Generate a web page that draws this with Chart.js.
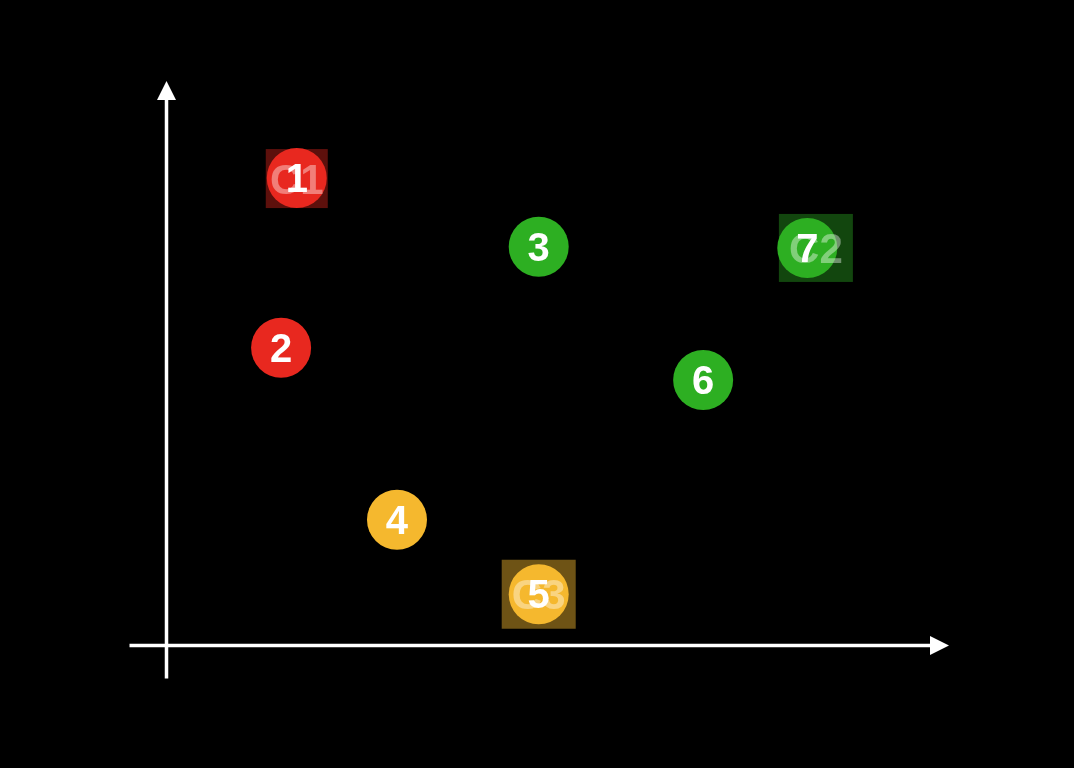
<!DOCTYPE html>
<html>
<head>
<meta charset="utf-8">
<script src="https://cdn.jsdelivr.net/npm/chart.js@4/dist/chart.umd.min.js"></script>
<style>
  html, body { margin: 0; padding: 0; background: #000; }
  canvas { display: block; }
</style>
</head>
<body>
<canvas id="c" width="1074" height="768"></canvas>
<script>
// ---- data ----
const pointLabels = ['1', '2', '3', '4', '5', '6', '7'];
const pointX = [1.67, 1.47, 4.76, 2.95, 4.76, 6.86, 8.19];
const pointY = [8.28, 5.27, 7.06, 2.22, 0.90, 4.70, 7.04];
const pointCluster = [0, 0, 1, 2, 2, 1, 1];

const centroidLabels = ['C1', 'C2', 'C3'];
const centroidX = [1.67, 8.30, 4.76];
const centroidY = [8.27, 7.04, 0.90];

// ---- styles ----
const clusterColors = ['#e8281f', '#2daf22', '#f5b82e'];
const clusterBoxColors = ['rgba(232,40,31,0.4)', 'rgba(45,175,34,0.4)', 'rgba(245,184,46,0.45)'];
const centroidBoxSize = [{ w: 62, h: 59 }, { w: 74, h: 68 }, { w: 74, h: 69 }];
const FONT = '"Liberation Sans", Arial, Helvetica, sans-serif';

const axesPlugin = {
  id: 'arrowAxes',
  beforeDatasetsDraw(chart) {
    const ctx = chart.ctx;
    const xs = chart.scales.x, ys = chart.scales.y;
    const ox = xs.getPixelForValue(0) + 0.5;
    const oy = ys.getPixelForValue(0) + 0.5;
    const xEnd = xs.getPixelForValue(xs.max);
    const yEnd = ys.getPixelForValue(ys.max);
    ctx.save();
    ctx.strokeStyle = '#fff';
    ctx.fillStyle = '#fff';
    ctx.lineWidth = 3.5;
    // x axis
    ctx.beginPath();
    ctx.moveTo(ox - 37, oy);
    ctx.lineTo(xEnd - 18, oy);
    ctx.stroke();
    ctx.beginPath();
    ctx.moveTo(xEnd, oy);
    ctx.lineTo(xEnd - 19, oy - 9.5);
    ctx.lineTo(xEnd - 19, oy + 9.5);
    ctx.closePath();
    ctx.fill();
    // y axis
    ctx.beginPath();
    ctx.moveTo(ox, oy + 33);
    ctx.lineTo(ox, yEnd + 18);
    ctx.stroke();
    ctx.beginPath();
    ctx.moveTo(ox, yEnd);
    ctx.lineTo(ox - 9.5, yEnd + 19);
    ctx.lineTo(ox + 9.5, yEnd + 19);
    ctx.closePath();
    ctx.fill();

    // centroid boxes (behind points)
    const meta = chart.getDatasetMeta(1);
    meta.data.forEach((el, i) => {
      const s = centroidBoxSize[i];
      ctx.fillStyle = clusterBoxColors[i];
      ctx.fillRect(el.x - s.w / 2, el.y - s.h / 2, s.w, s.h);
    });
    ctx.restore();
  },
  afterDatasetsDraw(chart) {
    const ctx = chart.ctx;
    ctx.save();
    ctx.textAlign = 'center';
    ctx.textBaseline = 'alphabetic';
    // point numbers
    ctx.fillStyle = '#fff';
    ctx.font = 'bold 40px ' + FONT;
    chart.getDatasetMeta(0).data.forEach((el, i) => {
      ctx.fillText(pointLabels[i], el.x, el.y + 14);
    });
    // centroid labels
    ctx.fillStyle = 'rgba(255,255,255,0.4)';
    ctx.font = 'bold 42px ' + FONT;
    chart.getDatasetMeta(1).data.forEach((el, i) => {
      ctx.fillText(centroidLabels[i], el.x, el.y + 15);
    });
    ctx.restore();
  }
};

new Chart(document.getElementById('c'), {
  type: 'scatter',
  data: {
    datasets: [
      {
        label: 'points',
        data: pointX.map((x, i) => ({ x, y: pointY[i] })),
        backgroundColor: pointCluster.map(c => clusterColors[c]),
        borderWidth: 0,
        pointRadius: 30,
        pointHoverRadius: 30
      },
      {
        label: 'centroids',
        data: centroidX.map((x, i) => ({ x, y: centroidY[i] })),
        pointRadius: 0,
        pointHoverRadius: 0
      }
    ]
  },
  options: {
    responsive: false,
    animation: false,
    events: [],
    layout: { padding: { left: 166, top: 81, right: 125, bottom: 123 } },
    scales: {
      x: { type: 'linear', min: 0, max: 10, display: false },
      y: { type: 'linear', min: 0, max: 10, display: false }
    },
    plugins: {
      legend: { display: false },
      tooltip: { enabled: false }
    }
  },
  plugins: [axesPlugin]
});
</script>
</body>
</html>
